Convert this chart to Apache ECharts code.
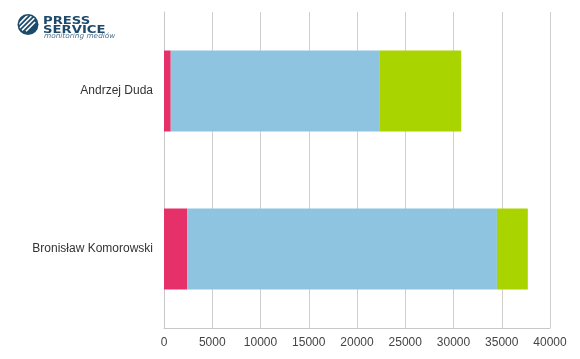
<!DOCTYPE html>
<html>
<head>
<meta charset="utf-8">
<script src="https://cdn.jsdelivr.net/npm/echarts@6/dist/echarts.min.js"></script>
<style>html,body{margin:0;padding:0;background:#fff}#c{width:580px;height:359px}</style>
</head>
<body>
<div id="c"></div>
<script>
var categories = ['Andrzej Duda', 'Bronisław Komorowski'];
var seriesRed = [700, 2400];
var seriesBlue = [21600, 32100];
var seriesGreen = [8500, 3200];
var xTicks = [0, 5000, 10000, 15000, 20000, 25000, 30000, 35000, 40000];

var chart = echarts.init(document.getElementById('c'), null, {renderer: 'canvas'});
var font = 'Liberation Sans, Arial, sans-serif';
function bar(name, data, color) {
  return {name: name, type: 'bar', stack: 's', data: data, barWidth: 81,
    itemStyle: {color: color}, silent: true};
}
var stripes = [];
[-6, -2, 2, 6].forEach(function (o) {
  stripes.push({type: 'line', shape: {x1: 20 + o, y1: 30 + o * 0.2, x2: 34 + o * 0.2, y2: 16 + o},
    style: {stroke: '#fff', lineWidth: 1.6}});
});
chart.setOption({
  animation: false,
  grid: {left: 164, right: 30, top: 12, bottom: 31, containLabel: false},
  xAxis: {type: 'value', min: 0, max: 40000, interval: 5000,
    axisLine: {show: true, lineStyle: {color: '#c8c8c8'}},
    axisTick: {show: false},
    splitLine: {show: true, lineStyle: {color: '#cfcfcf'}},
    axisLabel: {color: '#444', fontFamily: font, fontSize: 12, margin: 9,
      formatter: function (v) { return xTicks.indexOf(v) >= 0 ? String(v) : ''; }}},
  yAxis: {type: 'category', data: categories, inverse: true,
    axisLine: {show: true, lineStyle: {color: '#c8c8c8'}},
    axisTick: {show: false},
    axisLabel: {color: '#333', fontFamily: font, fontSize: 12, margin: 11}},
  series: [bar('a', seriesRed, '#e6306a'), bar('b', seriesBlue, '#8ec4e0'), bar('c', seriesGreen, '#aad400')],
  graphic: [
    {type: 'circle', shape: {cx: 28, cy: 24.5, r: 10.5}, style: {fill: '#1d4a6b'}},
    {type: 'group', children: stripes, clipPath: {type: 'circle', shape: {cx: 28, cy: 24.5, r: 9}}},
    {type: 'text', x: 43, y: 15.5, scaleX: 1.2, style: {text: 'PRESS', font: 'bold 11px DejaVu Sans', fill: '#1d4a6b'}},
    {type: 'text', x: 43, y: 24.5, scaleX: 1.2, style: {text: 'SERVICE', font: 'bold 11px DejaVu Sans', fill: '#1d4a6b'}},
    {type: 'text', x: 44, y: 33, scaleX: 1.05, style: {text: 'monitoring mediów', font: 'italic 7px DejaVu Sans', fill: '#4a6f8a'}}
  ]
});
</script>
</body>
</html>
